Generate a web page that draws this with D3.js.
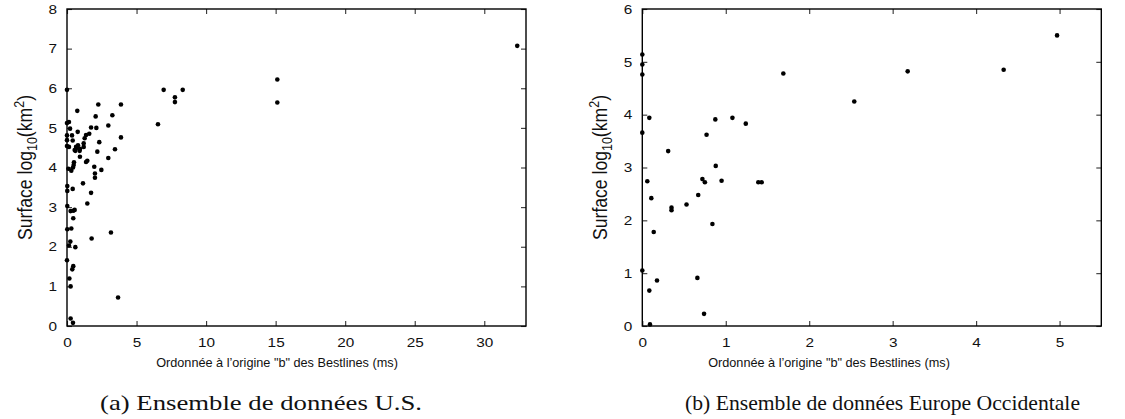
<!DOCTYPE html>
<html>
<head>
<meta charset="utf-8">
<script src="https://cdn.jsdelivr.net/npm/d3@7"></script>
<style>
  html, body { margin: 0; padding: 0; background: #fff; }
  svg { display: block; }
  .tick text { font-family: "Liberation Sans", Arial, sans-serif; font-size: 13px; fill: #111; }
  .tick line { stroke: #333; stroke-width: 1.1; }
  .frame { fill: none; stroke: #000; stroke-width: 1.4; }
  .atitle { font-family: "Liberation Sans", Arial, sans-serif; fill: #111; }
  .caption { font-family: "Liberation Serif", "Times New Roman", serif; font-size: 22px; fill: #111; }
</style>
</head>
<body>
<svg id="fig" width="1125" height="419"></svg>
<script>
// U.S. dataset: intercept "b" of the bestlines (ms) vs area log10(km²)
const usIntercept = [0, 6.95, 8.32, 7.76, 7.76, 6.54, 2.25, 3.88, 3.26, 2.06, 2.97, 0.74, 0.14, 0, 0.22, 1.73, 2.11, 1.6, 1.37, 0.77,
  1.27, 3.88, 0, 0.36, 0.41, 0, 1.2, 2.32, 3.45, 2.18, 0, 0.14, 0.65, 0.79, 0.93, 0.55, 0.74, 1.2, 0.91, 0.6,
  0.93, 1.46, 1.37, 2.97, 0.5, 0.48, 0.43, 1.96, 2.47, 0.1, 0.31, 2.01, 2.01, 0.02, 0.02, 0.41, 1.15, 1.73, 1.46, 0.02,
  0.26, 0.45, 0.55, 0.45, 0.02, 0.31, 3.16, 1.77, 0.24, 0.14, 0.6, 0, 0.45, 0.38, 0.17, 0.26, 3.67, 0.26, 0.43,
  15.12, 15.12, 32.37];
const usArea = [5.96, 5.96, 5.96, 5.77, 5.65, 5.09, 5.59, 5.59, 5.32, 5.29, 5.06, 5.43, 5.15, 5.12, 4.98, 5.01, 5.0, 4.85, 4.82, 4.9,
  4.74, 4.76, 4.81, 4.81, 4.68, 4.69, 4.61, 4.64, 4.46, 4.4, 4.54, 4.52, 4.52, 4.56, 4.47, 4.44, 4.5, 4.52, 4.42, 4.42,
  4.27, 4.17, 4.14, 4.24, 4.13, 4.06, 4.0, 4.02, 3.94, 3.97, 3.92, 3.85, 3.74, 3.53, 3.41, 3.46, 3.6, 3.36, 3.09, 3.03,
  2.9, 2.91, 2.93, 2.72, 2.44, 2.46, 2.36, 2.21, 2.13, 2.03, 1.99, 1.66, 1.51, 1.43, 1.2, 1.0, 0.72, 0.19, 0.08,
  6.22, 5.64, 7.07];

// Western Europe dataset
const euIntercept = [0, 0, 0, 0.084, 0, 0.875, 1.08, 1.24, 0.77, 0.31, 0.88, 0.06, 0.72, 0.75, 0.95, 1.39, 1.43, 0.108, 0.67, 0.35,
  0.35, 0.53, 0.84, 0.137, 0, 0.176, 0.084, 0.66, 0.74, 0.092, 1.69, 2.54, 3.18, 4.33, 4.97];
const euArea = [5.14, 4.95, 4.76, 3.94, 3.66, 3.91, 3.94, 3.83, 3.62, 3.31, 3.03, 2.74, 2.78, 2.72, 2.75, 2.72, 2.72, 2.42, 2.48, 2.24,
  2.19, 2.3, 1.93, 1.78, 1.05, 0.86, 0.67, 0.91, 0.23, 0.03, 4.78, 4.25, 4.82, 4.85, 5.5];

// Axis ticks
const usXTicks = [0, 5, 10, 15, 20, 25, 30];
const usYTicks = [0, 1, 2, 3, 4, 5, 6, 7, 8];
const euXTicks = [0, 1, 2, 3, 4, 5];
const euYTicks = [0, 1, 2, 3, 4, 5, 6];

const xTitle = "Ordonnée à l\u2019origine  \"b\" des Bestlines (ms)";
const captions = ["(a) Ensemble de données U.S.", "(b) Ensemble de données Europe Occidentale"];

const svg = d3.select("#fig");
const WIDE = 1.18; // horizontal widening of the sans-serif glyphs

function panel(opts) {
  const { left, right, top, bottom, xDomain, yDomain, xTicks, yTicks, xs, ys, titleX, captionX, captionW, caption } = opts;
  const x = d3.scaleLinear().domain(xDomain).range([left, right]);
  const y = d3.scaleLinear().domain(yDomain).range([bottom, top]);
  const g = svg.append("g");

  // mirrored inward ticks on all four sides
  g.append("g").attr("transform", `translate(0,${bottom})`)
    .call(d3.axisBottom(x).tickValues(xTicks).tickSizeInner(-5).tickSizeOuter(0).tickPadding(12).tickFormat(d3.format("d")))
    .call(s => s.select(".domain").remove())
    .call(s => s.selectAll(".tick text").attr("transform", `scale(${WIDE},1)`));
  g.append("g").attr("transform", `translate(0,${top})`)
    .call(d3.axisTop(x).tickValues(xTicks).tickSizeInner(-5).tickSizeOuter(0).tickFormat(""))
    .call(s => s.select(".domain").remove());
  g.append("g").attr("transform", `translate(${left},0)`)
    .call(d3.axisLeft(y).tickValues(yTicks).tickSizeInner(-5).tickSizeOuter(0).tickPadding(10 / WIDE).tickFormat(d3.format("d")))
    .call(s => s.select(".domain").remove())
    .call(s => s.selectAll(".tick text").attr("transform", `scale(${WIDE},1)`));
  g.append("g").attr("transform", `translate(${right},0)`)
    .call(d3.axisRight(y).tickValues(yTicks).tickSizeInner(-5).tickSizeOuter(0).tickFormat(""))
    .call(s => s.select(".domain").remove());

  g.append("rect").attr("class", "frame")
    .attr("x", left).attr("y", top).attr("width", right - left).attr("height", bottom - top);

  g.append("g").selectAll("circle").data(xs.map((d, i) => [d, ys[i]])).join("circle")
    .attr("cx", d => x(d[0])).attr("cy", d => y(d[1])).attr("r", 2.3).attr("fill", "#000");

  // y-axis title with subscript and superscript
  const yt = g.append("text").attr("class", "atitle").attr("font-size", 17.6)
    .attr("text-anchor", "middle")
    .attr("transform", `translate(${left - 35},${(top + bottom) / 2}) scale(${WIDE},1) rotate(-90)`);
  yt.append("tspan").text("Surface log");
  yt.append("tspan").attr("font-size", 12.5).attr("dy", 4).text("10");
  yt.append("tspan").attr("dy", -4).text("(km");
  yt.append("tspan").attr("font-size", 12.5).attr("dy", -7).text("2");
  yt.append("tspan").attr("dy", 7).text(")");

  g.append("text").attr("class", "atitle").attr("font-size", 12.7)
    .attr("text-anchor", "middle").attr("x", titleX).attr("y", 367).text(xTitle);

  g.append("text").attr("class", "caption").attr("text-anchor", "middle")
    .attr("x", captionX).attr("y", 410)
    .attr("textLength", captionW).attr("lengthAdjust", "spacingAndGlyphs").text(caption);
}

panel({ left: 67, right: 526, top: 9, bottom: 326, xDomain: [0, 33], yDomain: [0, 8],
  xTicks: usXTicks, yTicks: usYTicks, xs: usIntercept, ys: usArea, titleX: 277, captionX: 261, captionW: 322, caption: captions[0] });
panel({ left: 642.3, right: 1101.3, top: 9, bottom: 326, xDomain: [0, 5.5], yDomain: [0, 6],
  xTicks: euXTicks, yTicks: euYTicks, xs: euIntercept, ys: euArea, titleX: 829, captionX: 882.5, captionW: 395, caption: captions[1] });
</script>
</body>
</html>
